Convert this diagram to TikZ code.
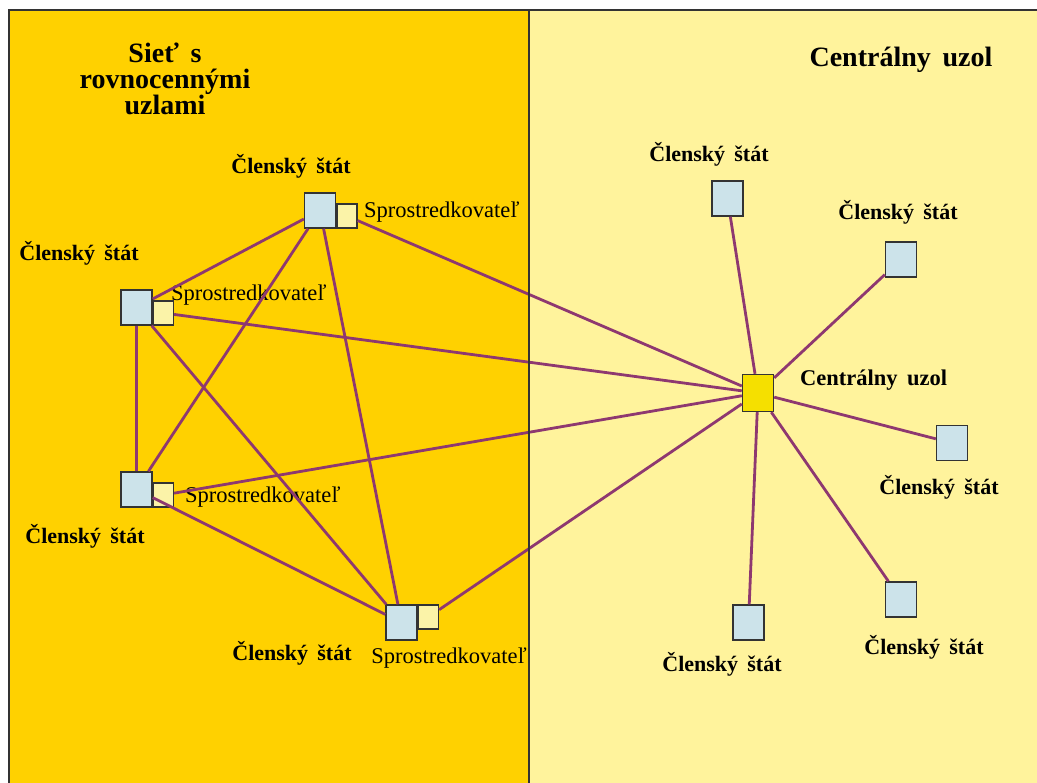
\documentclass[tikz,border=0pt]{standalone}
\usepackage{fontspec}
\setmainfont{Liberation Serif}
\definecolor{peerbg}{HTML}{FFD100}
\definecolor{centbg}{HTML}{FFF39C}
\definecolor{boxblue}{HTML}{CCE3EA}
\definecolor{boxyel}{HTML}{FBF3A8}
\definecolor{hubyel}{HTML}{F5E000}
\definecolor{link}{HTML}{8E3870}
\definecolor{frame}{HTML}{333333}
\newcommand{\wsp}{\hspace{0.42em}}
\tikzset{
  member/.style={draw=frame, line width=1.4pt, fill=boxblue, minimum width=31pt, minimum height=35pt, inner sep=0pt},
  broker/.style={draw=frame, line width=1.4pt, fill=boxyel, minimum width=20pt, minimum height=24pt, inner sep=0pt},
  hub/.style={draw=frame, line width=1.4pt, fill=hubyel, minimum width=31pt, minimum height=37pt, inner sep=0pt},
  lbl/.style={font=\fontsize{22}{24}\selectfont\bfseries, inner sep=0pt},
  blbl/.style={font=\fontsize{22.5}{25}\selectfont, inner sep=0pt},
  ttl/.style={font=\fontsize{28}{26}\selectfont\bfseries, inner sep=0pt, align=center},
  wire/.style={draw=link, line width=2.8pt}
}
\begin{document}
\begin{tikzpicture}[x=1pt,y=-1pt]
\useasboundingbox (0,0) rectangle (1037,783);
% panels
\fill[peerbg] (9,10) rectangle (529,783);
\fill[centbg] (529,10) rectangle (1037,783);
\draw[frame, line width=1.2pt] (9,783) -- (9,10) -- (1037,10);
% titles
\node[ttl] (t1) at (165,79) {Sieť\wsp s\\rovnocennými\\uzlami};
\node[ttl] (t2) at (901,60) {Centrálny\wsp uzol};
% peer nodes
\node[member] (A) at (320,210.5) {};
\node[broker, anchor=south west] (Ay) at (A.south east) {};
\node[member] (B) at (136.5,307.5) {};
\node[broker, anchor=south west] (By) at (B.south east) {};
\node[member] (C) at (136.5,489.5) {};
\node[broker, anchor=south west] (Cy) at (C.south east) {};
\node[member] (D) at (401.5,622.5) {};
\node[broker, anchor=north west] (Dy) at (D.north east) {};
% central hub and members
\node[hub] (H) at (758,393) {};
\node[member] (S1) at (727.5,198.5) {};
\node[member] (S2) at (901,259.5) {};
\node[member] (S3) at (952,443) {};
\node[member] (S4) at (901,599.5) {};
\node[member] (S5) at (748.5,622.5) {};
% labels
\node[lbl] (lA) at (291,166) {Členský\wsp štát};
\node[lbl] (lB) at (79,253) {Členský\wsp štát};
\node[lbl] (lC) at (85,536) {Členský\wsp štát};
\node[lbl] (lD) at (292,653) {Členský\wsp štát};
\node[blbl, anchor=west] (bA) at (364,212) {Sprostredkovateľ};
\node[blbl, anchor=west] (bB) at (171,295) {Sprostredkovateľ};
\node[blbl, anchor=west] (bC) at (185,497) {Sprostredkovateľ};
\node[blbl, anchor=east] (bD) at (527,658) {Sprostredkovateľ};
\node[lbl, anchor=west, font=\fontsize{22.5}{24}\selectfont\bfseries] (lH) at (800,380) {Centrálny\wsp uzol};
\node[lbl] (l1) at (709,154) {Členský\wsp štát};
\node[lbl] (l2) at (898,212) {Členský\wsp štát};
\node[lbl] (l3) at (939,487) {Členský\wsp štát};
\node[lbl] (l4) at (924,647) {Členský\wsp štát};
\node[lbl] (l5) at (722,664) {Členský\wsp štát};
% connectors
\draw[wire] (A) -- (B);
\draw[wire] (A) -- (C);
\draw[wire] (A) -- (D);
\draw[wire] (B) -- (C);
\draw[wire] (B) -- (D);
\draw[wire] (C) -- (D);
\draw[wire] (Ay) -- (H);
\draw[wire] (By) -- (H);
\draw[wire] (Cy) -- (H);
\draw[wire] (Dy) -- (H);
\draw[wire] (H) -- (S1);
\draw[wire] (H) -- (S2);
\draw[wire] (H) -- (S3);
\draw[wire] (H) -- (S4);
\draw[wire] (H) -- (S5);
% divider on top
\draw[frame, line width=2pt] (529,10) -- (529,783);
\end{tikzpicture}
\end{document}
